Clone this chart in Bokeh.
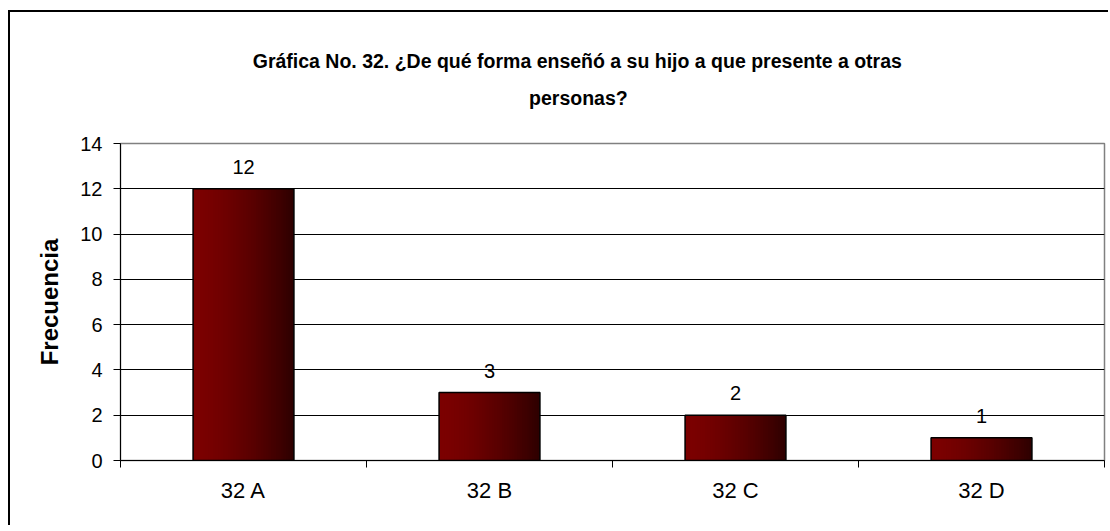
import numpy as np
from bokeh.plotting import figure
from bokeh.models import (ColumnDataSource, Range1d, LinearAxis,
                          FixedTicker, Title)
from bokeh.embed import file_html
from bokeh.resources import INLINE
from bokeh.core.properties import value

# ---- data ----
categories = ["32 A", "32 B", "32 C", "32 D"]
frecuencia = [12, 3, 2, 1]
y_ticks = [0, 2, 4, 6, 8, 10, 12, 14]
title_line1 = "Gráfica No. 32. ¿De qué forma enseñó a su hijo a que presente a otras"
title_line2 = "personas?"
y_label = "Frecuencia"

FONT = "Liberation Sans"
n = len(categories)
pos = np.arange(n) + 0.5          # category centres on a 0..n axis

src = ColumnDataSource(dict(x=pos, val=frecuencia,
                            lbl=[str(v) for v in frecuencia]))

p = figure(width=1100, height=515,
           x_range=Range1d(0, n), y_range=Range1d(0, 14),
           output_backend="svg", toolbar_location=None,
           x_axis_location=None,
           min_border_left=110, min_border_right=6,
           min_border_top=131, min_border_bottom=67)
p.styles = {"margin-left": "8px", "margin-top": "10px",
            "border-top": "2px solid black", "border-left": "2px solid black"}
p.background_fill_color = "white"
p.border_fill_color = "white"
p.outline_line_color = "#808080"
p.outline_line_width = 1.5

# x axis (ticks at category boundaries, labels at centres)
ticker = FixedTicker(ticks=list(pos), minor_ticks=list(range(n + 1)))
xaxis = LinearAxis(ticker=ticker,
                   major_label_overrides={float(x): c for x, c in zip(pos, categories)})
xaxis.major_tick_line_color = None
xaxis.major_tick_out = 7
xaxis.major_tick_in = 0
xaxis.minor_tick_in = 0
xaxis.minor_tick_out = 7
xaxis.minor_tick_line_color = "black"
xaxis.axis_line_color = "black"
xaxis.major_label_standoff = 10
xaxis.major_label_text_font = FONT
xaxis.major_label_text_font_size = "22px"
xaxis.major_label_text_color = "black"
p.add_layout(xaxis, "below")

# y axis
yax = p.yaxis[0]
yax.ticker = FixedTicker(ticks=y_ticks)
yax.major_tick_out = 7
yax.major_tick_in = 0
yax.minor_tick_line_color = None
yax.axis_line_color = "black"
yax.major_tick_line_color = "black"
yax.major_label_standoff = 11
yax.major_label_text_font = FONT
yax.major_label_text_font_size = "20px"
yax.major_label_text_color = "black"
yax.axis_label = y_label
yax.axis_label_text_font = FONT
yax.axis_label_text_font_size = "24px"
yax.axis_label_text_font_style = "bold"
yax.axis_label_text_color = "black"
yax.axis_label_standoff = 14

p.xgrid.visible = False
p.ygrid.ticker = FixedTicker(ticks=y_ticks)
p.ygrid.grid_line_color = "black"
p.ygrid.grid_line_width = 1

# bars with left-to-right gradient (nested strips, darkest first)
w = 0.41
n_strips = 40
step = w / n_strips
for i in reversed(range(n_strips)):
    t = (i + 0.5) / n_strips
    r = int(round(124 - 78 * t ** 1.5))
    p.vbar(x=pos - w / 2 + (i + 1) * step / 2, top=frecuencia, bottom=0,
           width=(i + 1) * step,
           fill_color=(r, 0, 0), line_color=None)
p.vbar(x="x", top="val", bottom=0, width=w, source=src,
       fill_color=None, line_color="black", line_width=1.5)

# value labels
p.text(x="x", y="val", text="lbl", source=src, text_align="center",
       text_baseline="middle", y_offset=-22, text_font=value(FONT),
       text_font_size="20px", text_color="black")

# title: two lines; no-break spaces centre them over the chart
nb = "\u00a0"
p.add_layout(Title(text=title_line1 + nb * 13 + "\n" + nb * 51 + title_line2,
                   align="center", standoff=69, text_line_height=1.69,
                   text_font=FONT, text_font_size="19.5px",
                   text_font_style="bold", text_color="black"), "above")

open("out.html", "w").write(file_html(p, INLINE))
